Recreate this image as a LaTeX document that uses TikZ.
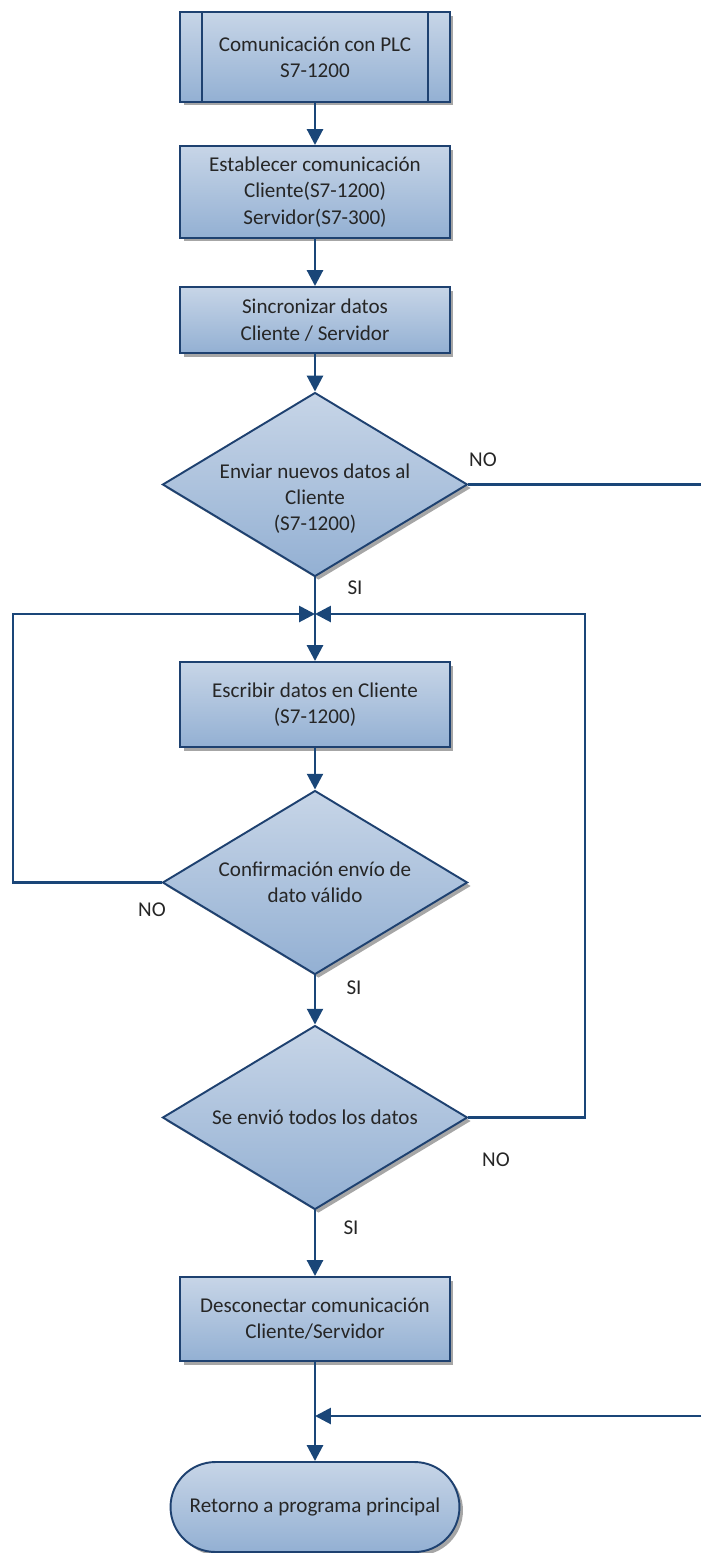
\documentclass[tikz,border=0pt]{standalone}
\usepackage{fontspec}
\setmainfont{Carlito}
\usetikzlibrary{shapes.geometric,arrows.meta,shadows,calc}

\definecolor{flowline}{HTML}{1A4678}
\definecolor{flowborder}{HTML}{1E4170}
\definecolor{filltop}{HTML}{C7D5E7}
\definecolor{fillbot}{HTML}{93B0D3}
\definecolor{txt}{HTML}{262626}

\tikzset{
  base/.style={draw=flowborder, line width=1.1pt, top color=filltop, bottom color=fillbot,
    text=txt, align=center, font=\fontsize{12}{15}\selectfont,
    drop shadow={shadow xshift=0.07cm, shadow yshift=-0.07cm, fill=black, opacity=0.35}},
  procbox/.style={base, rectangle, minimum width=5.4cm, inner sep=0pt},
  decision/.style={base, diamond, aspect=1.65, minimum width=6.1cm, minimum height=3.68cm, inner sep=0pt},
  terminal/.style={base, rectangle, rounded corners=0.9cm, minimum width=5.78cm, minimum height=1.8cm},
  flow/.style={draw=flowline, line width=1.6pt, -{Triangle[length=9pt,width=9pt]}},
  link/.style={draw=flowline, line width=1.6pt},
  tag/.style={text=txt, font=\fontsize{12}{15}\selectfont, align=center}
}

\begin{document}
\begin{tikzpicture}[x=0.02cm, y=-0.02cm]
  \useasboundingbox (0,0) rectangle (701,1553);

  % process steps
  \node[procbox, minimum height=1.8cm] (b1) at (315,57) {Comunicación con PLC\\S7-1200};
  \draw[flowborder, line width=1.1pt] ([xshift=0.45cm]b1.north west) -- ([xshift=0.45cm]b1.south west);
  \draw[flowborder, line width=1.1pt] ([xshift=-0.45cm]b1.north east) -- ([xshift=-0.45cm]b1.south east);

  \node[procbox, minimum height=1.84cm] (b2) at (315,192) {Establecer comunicación\\Cliente(S7-1200)\\Servidor(S7-300)};
  \node[procbox, minimum height=1.32cm] (b3) at (315,320) {Sincronizar datos\\Cliente / Servidor};

  \node[decision] (d1) at (315,484.5) {};
  \node[tag] (d1t) at (315,498.5) {Enviar nuevos datos al\\Cliente\\(S7-1200)};

  \coordinate (j1) at (315,614);
  \node[procbox, minimum height=1.7cm] (b4) at (315,704.5) {Escribir datos en Cliente\\(S7-1200)};
  \node[decision] (d2) at (315,882.5) {Confirmación envío de\\dato válido};
  \node[decision] (d3) at (315,1117.5) {Se envió todos los datos};
  \node[procbox, minimum height=1.68cm] (b5) at (315,1319) {Desconectar comunicación\\Cliente/Servidor};
  \coordinate (j2) at (315,1416);
  \node[terminal] (t) at (315,1507) {Retorno a programa principal};

  % loop rails and page-edge ends
  \coordinate (lx) at (13,0);
  \coordinate (rx) at (585,0);
  \coordinate (rimA) at (701,484.5);
  \coordinate (rimB) at (701,1416);

  % connectors
  \draw[flow] (b1.south) -- (b2.north);
  \draw[flow] (b2.south) -- (b3.north);
  \draw[flow] (b3.south) -- (d1.north);
  \draw[link] (d1.east) -- (rimA);
  \draw[flow] (d1.south) -- (b4.north);
  \draw[flow] (b4.south) -- (d2.north);
  \draw[flow] (d2.west) -- (d2.west -| lx) |- (j1);
  \draw[flow] (d2.south) -- (d3.north);
  \draw[flow] (d3.east) -- (d3.east -| rx) |- (j1);
  \draw[flow] (d3.south) -- (b5.north);
  \draw[flow] (b5.south) -- (t.north);
  \draw[flow] (rimB) -- (j2);

  % branch labels
  \node[tag] (no1) at (483,460) {NO};
  \node[tag] (si1) at (355,588) {SI};
  \node[tag] (no2) at (152,910) {NO};
  \node[tag] (si2) at (354,988) {SI};
  \node[tag] (no3) at (496,1160) {NO};
  \node[tag] (si3) at (351,1228) {SI};
\end{tikzpicture}
\end{document}
